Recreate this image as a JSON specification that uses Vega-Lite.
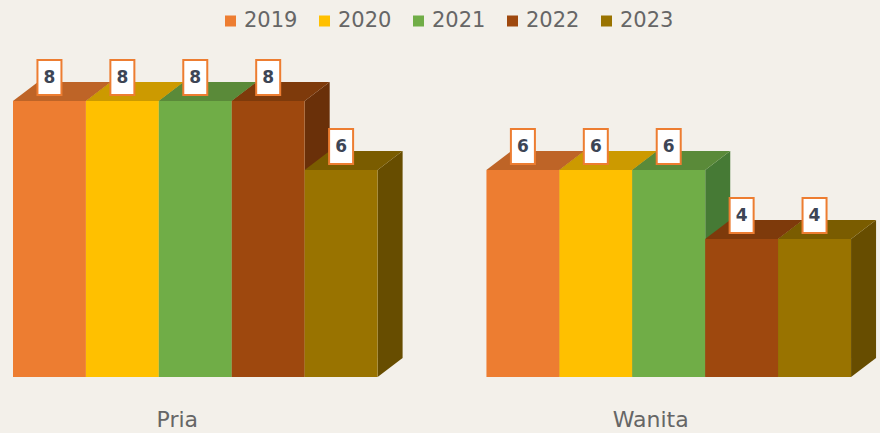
{"$schema":"https://vega.github.io/schema/vega-lite/v6.json","width":880,"height":377,"autosize":"none","padding":{"left":0,"right":0,"top":0,"bottom":56},"background":"#f3f0ea","config":{"view":{"stroke":null}},
"data":{"values":[
{"gender":"Pria","year":"2019","value":8},{"gender":"Pria","year":"2020","value":8},{"gender":"Pria","year":"2021","value":8},{"gender":"Pria","year":"2022","value":8},{"gender":"Pria","year":"2023","value":6},
{"gender":"Wanita","year":"2019","value":6},{"gender":"Wanita","year":"2020","value":6},{"gender":"Wanita","year":"2021","value":6},{"gender":"Wanita","year":"2022","value":4},{"gender":"Wanita","year":"2023","value":4}]},
"encoding":{
"x":{"field":"gender","type":"nominal","title":null,"scale":{"type":"band","range":[13,851],"paddingInner":0.23,"paddingOuter":0},"axis":{"domain":false,"ticks":false,"labelAngle":0,"labelOffset":-18,"labelPadding":32,"labelFont":"DejaVu Sans","labelFontSize":22,"labelColor":"#666666","grid":false}},
"xOffset":{"field":"year","type":"nominal","scale":{"type":"band","paddingInner":0,"paddingOuter":0}},
"y":{"field":"value","type":"quantitative","title":null,"scale":{"domain":[0,10.928],"nice":false,"zero":true},"axis":null}},
"layer":[
{"mark":{"type":"point","filled":true,"opacity":1,"strokeWidth":0,"size":4},
"encoding":{"color":{"field":"year","type":"nominal","legend":null,"scale":{"range":["#9f5421","#ab8000","#467a35","#6a3009","#674d00"]}},
"shape":{"field":"value","type":"nominal","legend":null,"scale":{"domain":[4,6,8],"range":["M36.5 0L61.5 -19L61.5 119L36.5 138Z","M36.5 0L61.5 -19L61.5 188L36.5 207Z","M36.5 0L61.5 -19L61.5 257L36.5 276Z"]}}}},
{"mark":{"type":"point","filled":true,"opacity":1,"strokeWidth":0,"size":4,"shape":"M-36.5 0L36.5 0L61.5 -19L-11.5 -19Z"},
"encoding":{"color":{"field":"year","type":"nominal","legend":null,"scale":{"range":["#be6427","#cc9a00","#5a8a39","#7e3a0b","#7a5c00"]}}}},
{"mark":{"type":"bar"},
"encoding":{"color":{"field":"year","type":"nominal","scale":{"range":["#ed7d31","#ffc000","#70ad47","#9e480e","#997300"]},
"legend":{"title":null,"orient":"none","legendX":220,"legendY":9,"direction":"horizontal","columns":5,"symbolType":"square","symbolSize":121,"symbolStrokeWidth":0,"labelFont":"DejaVu Sans","labelFontSize":21,"labelColor":"#666666","labelOffset":3,"columnPadding":16,"clipHeight":24}}}},
{"mark":{"type":"point","filled":true,"opacity":1,"fill":"#ffffff","stroke":"#ed7d31","strokeWidth":2,"size":4,"shape":"M-12 -41L12 -41L12 -6L-12 -6Z"}},
{"mark":{"type":"text","font":"DejaVu Sans","fontSize":17,"fontWeight":"bold","color":"#3d4555","dy":-23,"baseline":"middle"},"encoding":{"text":{"field":"value","type":"quantitative"}}}
],
"resolve":{"scale":{"color":"independent","shape":"independent"}}}
